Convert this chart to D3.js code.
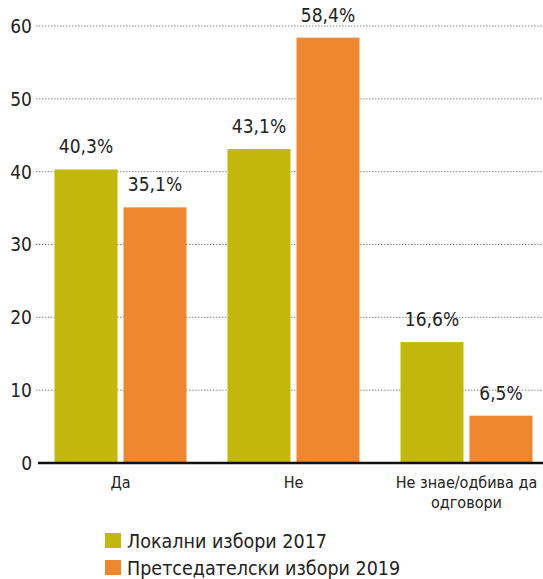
<!DOCTYPE html>
<html><head><meta charset="utf-8">
<script src="https://cdn.jsdelivr.net/npm/d3@7"></script>
<style>body{margin:0;background:#fff}svg{display:block}text{font-family:"DejaVu Sans Condensed","Roboto",sans-serif;fill:#222}</style>
</head><body>
<script>
const categories = ["Да", "Не", "Не знае/одбива да одговори"];
const categoryLines = [["Да"], ["Не"], ["Не знае/одбива да", "одговори"]];
const seriesNames = ["Локални избори 2017", "Претседателски избори 2019"];
const values2017 = [40.3, 43.1, 16.6];
const values2019 = [35.1, 58.4, 6.5];
const yTicks = [0, 10, 20, 30, 40, 50, 60];
const colors = ["#c2b70d", "#ee872f"];

const W = 543, H = 579;
const svg = d3.select("body").append("svg").attr("width", W).attr("height", H);

const y = d3.scaleLinear().domain([0, 60]).range([463, 26]);
const x0 = d3.scaleBand().domain(categories).range([34, 553]).paddingInner(0.237).paddingOuter(0.1185);
const x1 = d3.scaleBand().domain(seriesNames).range([0, x0.bandwidth()]).paddingInner(0.087);

svg.append("g").selectAll("line").data(yTicks.filter(d => d > 0)).join("line")
  .attr("x1", 36).attr("x2", W).attr("y1", d => y(d)).attr("y2", d => y(d))
  .attr("stroke", "#888").attr("stroke-width", 1).attr("stroke-dasharray", "1.5,1.5");

svg.append("g").selectAll("text").data(yTicks).join("text")
  .attr("x", 32).attr("y", d => y(d)).attr("dy", "0.36em")
  .attr("text-anchor", "end").attr("font-size", 19).text(d => d);

const data = categories.map((c, i) => ({cat: c, vals: [values2017[i], values2019[i]]}));

const groups = svg.append("g").selectAll("g").data(data).join("g")
  .attr("transform", d => `translate(${x0(d.cat)},0)`);

groups.selectAll("rect").data(d => d.vals.map((v, j) => ({v, s: seriesNames[j], j}))).join("rect")
  .attr("x", d => x1(d.s)).attr("width", x1.bandwidth())
  .attr("y", d => y(d.v)).attr("height", d => y(0) - y(d.v))
  .attr("fill", d => colors[d.j]);

groups.selectAll("text.val").data(d => d.vals.map((v, j) => ({v, s: seriesNames[j], j}))).join("text")
  .attr("class", "val")
  .attr("x", d => x1(d.s) + x1.bandwidth() / 2).attr("y", d => y(d.v) - 16)
  .attr("text-anchor", "middle").attr("font-size", 19)
  .text(d => d3.format(".1f")(d.v).replace(".", ",") + "%");

svg.append("line").attr("x1", 38).attr("x2", W).attr("y1", y(0)).attr("y2", y(0))
  .attr("stroke", "#111").attr("stroke-width", 2.5);

categories.forEach((c, i) => {
  const cx = x0(c) + x0.bandwidth() / 2;
  const t = svg.append("text").attr("x", cx).attr("y", 488)
    .attr("text-anchor", "middle").attr("font-size", 16);
  categoryLines[i].forEach((ln, k) => {
    t.append("tspan").attr("x", cx).attr("dy", k === 0 ? 0 : 20).text(ln);
  });
});

const lg = svg.append("g").attr("transform", "translate(105,533)");
seriesNames.forEach((s, i) => {
  lg.append("rect").attr("x", 0).attr("y", i * 27).attr("width", 16).attr("height", 15).attr("fill", colors[i]);
  lg.append("text").attr("x", 22).attr("y", i * 27 + 8).attr("dy", "0.36em").attr("font-size", 19.5).text(s);
});
</script>
</body></html>
